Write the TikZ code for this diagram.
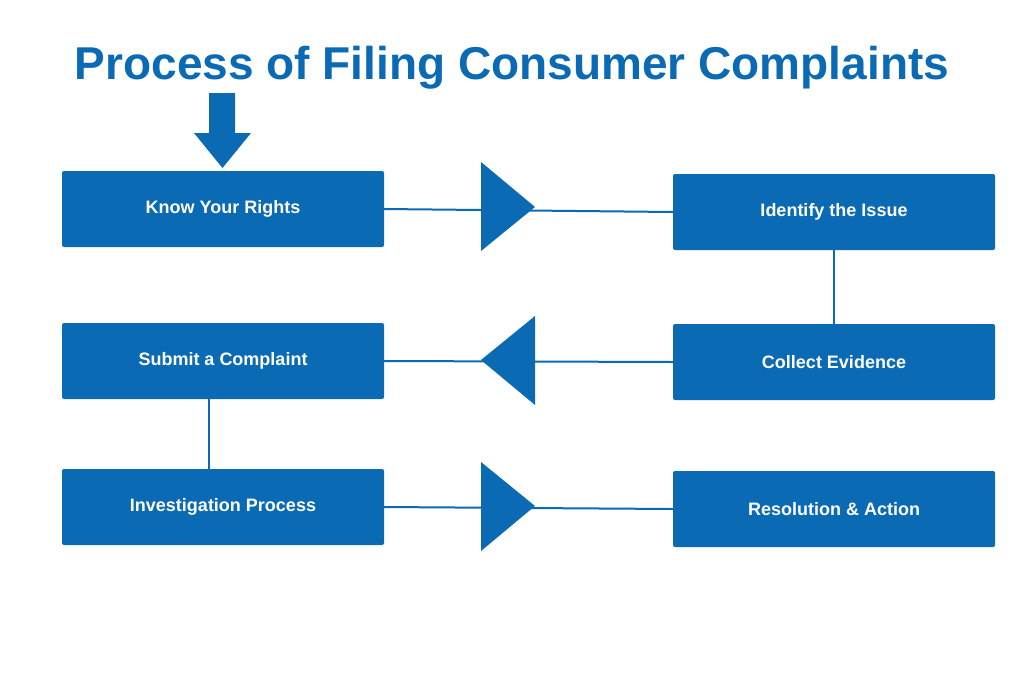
\documentclass[tikz,border=0pt]{standalone}
\usepackage{fontspec}
\setmainfont{Liberation Sans}
\begin{document}
\definecolor{bl}{HTML}{0A6AB4}
\begin{tikzpicture}[x=1pt,y=-1pt,
 box/.style={fill=bl,rounded corners=2pt,minimum width=322pt,minimum height=76pt,inner sep=0pt,text=white,font=\fontsize{18}{22}\selectfont\bfseries},
 ln/.style={draw=bl,line width=2pt},
 tri/.style={fill=bl}]
\useasboundingbox (0,0) rectangle (1024,683);
\node[text=bl,font=\fontsize{46}{52}\selectfont\bfseries] (title) at (512,68) {Process of Filing Consumer Complaints};
\node[box] (a) at (223,209) {Know Your Rights};
\node[box] (b) at (834,212) {Identify the Issue};
\node[box] (d) at (223,361) {Submit a Complaint};
\node[box] (c) at (834,362) {Collect Evidence};
\node[box] (e) at (223,507) {Investigation Process};
\node[box] (f) at (834,509) {Resolution \& Action};
\draw[ln] (a.east) -- (b.west);
\draw[ln] (c.west) -- (d.east);
\draw[ln] (e.east) -- (f.west);
\draw[ln] (b.south) -- (c.north);
\draw[ln] (d.south -| 209,0) -- (e.north -| 209,0);
\fill[tri] (481,162) -- (535,207) -- (481,251) -- cycle;
\fill[tri] (535,316) -- (481,360) -- (535,405) -- cycle;
\fill[tri] (481,462) -- (535,506) -- (481,551) -- cycle;
\fill[bl] (209,93) -- (235,93) -- (235,133) -- (251,133) -- (222.5,168) -- (194,133) -- (209,133) -- cycle;
\end{tikzpicture}
\end{document}
